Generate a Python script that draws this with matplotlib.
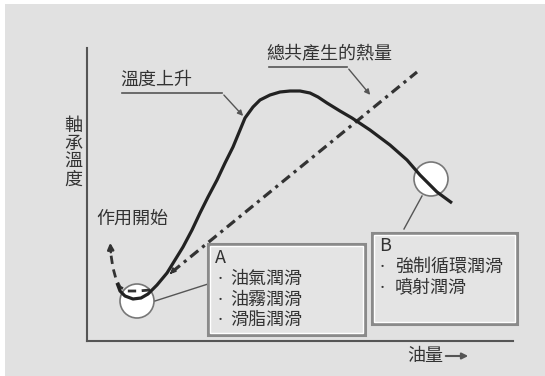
import matplotlib
matplotlib.use("Agg")
import matplotlib.pyplot as plt
from matplotlib.patches import Circle, Rectangle

plt.rcParams['font.family'] = ['Noto Sans CJK TC', 'DejaVu Sans']

# chart units: origin at the axes corner, 1 unit ~ 1 px
temp_x = [30, 33, 38, 46, 54, 61, 70, 80, 88, 96, 105, 113, 121, 130, 138, 146, 158,
          166, 173, 183, 193, 203, 213, 223, 231, 240, 253, 265, 283, 303, 320, 333, 350, 365]
temp_y = [58, 50, 45, 42, 43, 47, 56, 68, 81, 94, 111, 128, 144, 161, 178, 194, 223,
          234, 241, 246, 249, 250, 250, 248, 244, 238, 230, 223, 211, 196, 181, 166, 149, 138]

heat_x = [85, 330]
heat_y = [69, 269]

start_x = [63, 51, 40, 33, 29, 26, 24, 23]
start_y = [51, 50, 50, 54, 62, 73, 86, 101]

circle_a = (50, 40)
circle_b = (344, 162)

box_a = (121, 6, 157, 91)
box_b = (285, 17, 145, 91)
box_a_items = ["油氣潤滑", "油霧潤滑", "滑脂潤滑"]
box_b_items = ["強制循環潤滑", "噴射潤滑"]

ink = "#222222"
grey = "#555555"

fig = plt.figure(figsize=(5.45, 3.76), dpi=100, facecolor="white")
bg = fig.add_axes([5 / 545, 0, 540 / 545, 372 / 376])
bg.set_facecolor("#e1e1e1")
bg.set_xticks([])
bg.set_yticks([])
for s in bg.spines.values():
    s.set_visible(False)

ax = fig.add_axes([87 / 545, 35 / 376, 426 / 545, 293 / 376])
ax.set_xlim(0, 426)
ax.set_ylim(0, 293)
ax.patch.set_alpha(0)
ax.set_xticks([])
ax.set_yticks([])
ax.spines["top"].set_visible(False)
ax.spines["right"].set_visible(False)
ax.spines["left"].set_color(grey)
ax.spines["bottom"].set_color(grey)
ax.spines["left"].set_linewidth(1.5)
ax.spines["bottom"].set_linewidth(1.5)

# circles under the curves
for c in (circle_a, circle_b):
    ax.add_patch(Circle(c, 17, facecolor="white", edgecolor="#777777", lw=1.2, zorder=2))

ax.plot(temp_x, temp_y, color=ink, lw=2.3, zorder=4, solid_capstyle="butt")
ax.plot(heat_x, heat_y, color="#333333", lw=2.3, zorder=3, linestyle=(0, (3.2, 1.6, 1, 1.6)))
ax.annotate("", xy=(heat_x[0] - 4, heat_y[0] - 4), xytext=(heat_x[0] + 2, heat_y[0] + 2),
            arrowprops=dict(arrowstyle="-|>", color="#333333", lw=1.2, mutation_scale=8), zorder=3)

ax.plot(start_x[:-1], start_y[:-1], color="#333333", lw=2, linestyle=(0, (3, 2)), zorder=3)
ax.annotate("", xy=(start_x[-1], start_y[-1]), xytext=(start_x[-2], start_y[-2]),
            arrowprops=dict(arrowstyle="-|>", color="#333333", lw=1.8, mutation_scale=9), zorder=3)

# connectors to the boxes
ax.plot([68, 121], [40, 57], color=grey, lw=1, zorder=2, clip_on=False)
ax.plot([335, 317], [145, 112], color=grey, lw=1, zorder=2, clip_on=False)

for (x0, y0, w, h) in (box_a, box_b):
    ax.add_patch(Rectangle((x0, y0), w, h, facecolor="#e4e4e4", edgecolor="#8a8a8a",
                           lw=2.2, zorder=5, clip_on=False))
    ax.add_patch(Rectangle((x0 + 2, y0 + 2), w - 4, h - 4, facecolor="none",
                           edgecolor="white", lw=1, zorder=5, clip_on=False))

txt = dict(color="#333333", fontsize=13, zorder=6, clip_on=False)
dot = dict(color="#333333", fontsize=8, zorder=6, clip_on=False, ha="center", va="center")
ax.text(box_a[0] + 7, 83, "A", ha="left", va="center", **txt)
for i, item in enumerate(box_a_items):
    y = 62 - i * 20.5
    ax.text(box_a[0] + 12, y, "·", **dot)
    ax.text(box_a[0] + 22, y, item, ha="left", va="center", **txt)

ax.text(box_b[0] + 7, 95, "B", ha="left", va="center", **txt)
for i, item in enumerate(box_b_items):
    y = 74 - i * 20.5
    ax.text(box_b[0] + 10, y, "·", **dot)
    ax.text(box_b[0] + 23, y, item, ha="left", va="center", **txt)

# leader labels
ax.text(33, 261, "溫度上升", ha="left", va="center", **txt)
ax.plot([35, 135], [248, 248], color=grey, lw=1.2, clip_on=False)
ax.annotate("", xy=(158, 223), xytext=(135, 248),
            arrowprops=dict(arrowstyle="-|>", color=grey, lw=1, mutation_scale=8))

ax.text(179, 287, "總共產生的熱量", ha="left", va="center", **txt)
ax.plot([182, 260], [274, 274], color=grey, lw=1.2, clip_on=False)
ax.annotate("", xy=(285, 244), xytext=(260, 274),
            arrowprops=dict(arrowstyle="-|>", color=grey, lw=1, mutation_scale=8),
            annotation_clip=False)

ax.text(9, 122, "作用開始", ha="left", va="center", **txt)

ax.text(-14, 188, "軸\n承\n溫\n度", ha="center", va="center", linespacing=1.0, **txt)
ax.text(320, -15, "油量", ha="left", va="center", **txt)
ax.annotate("", xy=(384, -15), xytext=(356, -15),
            arrowprops=dict(arrowstyle="-|>", color=grey, lw=1.5, mutation_scale=9),
            annotation_clip=False)

fig.savefig("out.png", dpi=100, facecolor=fig.get_facecolor())
